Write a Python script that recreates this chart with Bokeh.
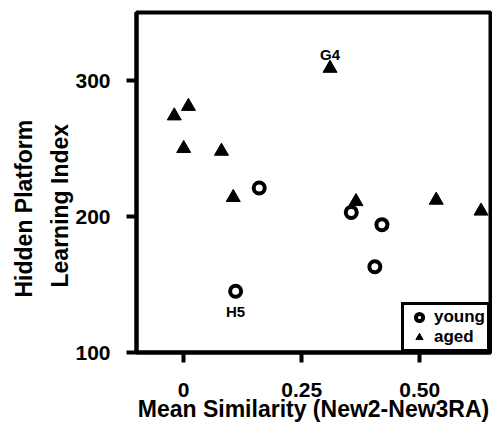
from bokeh.plotting import figure
from bokeh.models import Range1d, FixedTicker, Title, Legend, LegendItem
from bokeh.core.properties import value
from bokeh.embed import file_html
from bokeh.resources import INLINE

# ---- data ----
young_x = [0.16, 0.11, 0.355, 0.42, 0.405]
young_y = [221, 145, 203, 194, 163]
aged_x = [-0.02, 0.01, 0.0, 0.08, 0.105, 0.31, 0.365, 0.535, 0.63]
aged_y = [274, 281, 250, 248, 214, 309, 211, 212, 204]

x_ticks = [0, 0.25, 0.5]
x_tick_labels = ["0", "0.25", "0.50"]
y_ticks = [100, 200, 300]
y_tick_labels = ["100", "200", "300"]

x_title = "Mean Similarity (New2-New3RA)"
y_title_lines = ["Hidden Platform", "Learning Index"]
series_names = ["young", "aged"]
point_names = ["G4", "H5"]  # G4 -> aged[5], H5 -> young[1]

FONT = "Liberation Sans"

p = figure(width=492, height=424, output_backend="svg", toolbar_location=None,
           x_range=Range1d(-0.1, 0.65), y_range=Range1d(100, 350),
           min_border_left=134, min_border_right=2, min_border_top=12,
           min_border_bottom=71)

p.outline_line_color = "black"
p.outline_line_width = 4
p.outline_line_alpha = 1
p.xgrid.visible = False
p.ygrid.visible = False
p.background_fill_color = "white"
p.border_fill_color = "white"

p.xaxis.ticker = FixedTicker(ticks=x_ticks)
p.xaxis.major_label_overrides = {t: l for t, l in zip(x_ticks, x_tick_labels)}
p.yaxis.ticker = FixedTicker(ticks=y_ticks)
p.yaxis.major_label_overrides = {t: l for t, l in zip(y_ticks, y_tick_labels)}

for ax in (p.xaxis[0], p.yaxis[0]):
    ax.axis_line_width = 4
    ax.axis_line_color = "black"
    ax.major_tick_line_width = 4
    ax.major_tick_line_color = "black"
    ax.major_tick_out = 10
    ax.major_tick_in = 0
    ax.minor_tick_line_color = None
    ax.major_label_text_font = FONT
    ax.major_label_text_font_style = "bold"
    ax.major_label_text_font_size = "21px"
    ax.major_label_text_color = "black"

p.xaxis.major_label_standoff = 20
p.yaxis.major_label_standoff = 16
p.xaxis.axis_label = x_title
p.xaxis.axis_label_text_font = FONT
p.xaxis.axis_label_text_font_style = "bold"
p.xaxis.axis_label_text_font_size = "23px"
p.xaxis.axis_label_text_color = "black"
p.xaxis.axis_label_standoff = -4

t_inner = Title(text=y_title_lines[1], align="left", offset=65, standoff=0,
                text_font=FONT, text_font_style="bold", text_font_size="23px",
                text_color="black")
t_outer = Title(text=y_title_lines[0], align="left", offset=55, standoff=16,
                text_font=FONT, text_font_style="bold", text_font_size="23px",
                text_color="black")
p.add_layout(t_inner, "left")
p.add_layout(t_outer, "left")

r_aged = p.scatter(aged_x, aged_y, marker="triangle", size=14,
                   fill_color="black", line_color="black", line_width=1)
r_young = p.scatter(young_x, young_y, marker="circle", size=11,
                    fill_color="white", line_color="black", line_width=4)

# point annotations
p.text(x=[aged_x[5]], y=[aged_y[5]], text=[point_names[0]], y_offset=-14,
       text_align="center", text_baseline="middle", text_font=value(FONT),
       text_font_style="bold", text_font_size="15px", text_color="black")
p.text(x=[young_x[1]], y=[young_y[1]], text=[point_names[1]], y_offset=20,
       text_align="center", text_baseline="middle", text_font=value(FONT),
       text_font_style="bold", text_font_size="15px", text_color="black")

legend = Legend(items=[LegendItem(label=series_names[0], renderers=[r_young]),
                       LegendItem(label=series_names[1], renderers=[r_aged])],
                location="bottom_right", margin=0, padding=2, spacing=0,
                glyph_height=18, glyph_width=26, label_height=18,
                label_standoff=2, border_line_color="black",
                border_line_width=3, border_line_alpha=1,
                background_fill_color="white", background_fill_alpha=1,
                label_text_font=FONT, label_text_font_style="bold",
                label_text_font_size="17px", label_text_color="black")
p.add_layout(legend)

open("out.html", "w").write(file_html(p, INLINE))
